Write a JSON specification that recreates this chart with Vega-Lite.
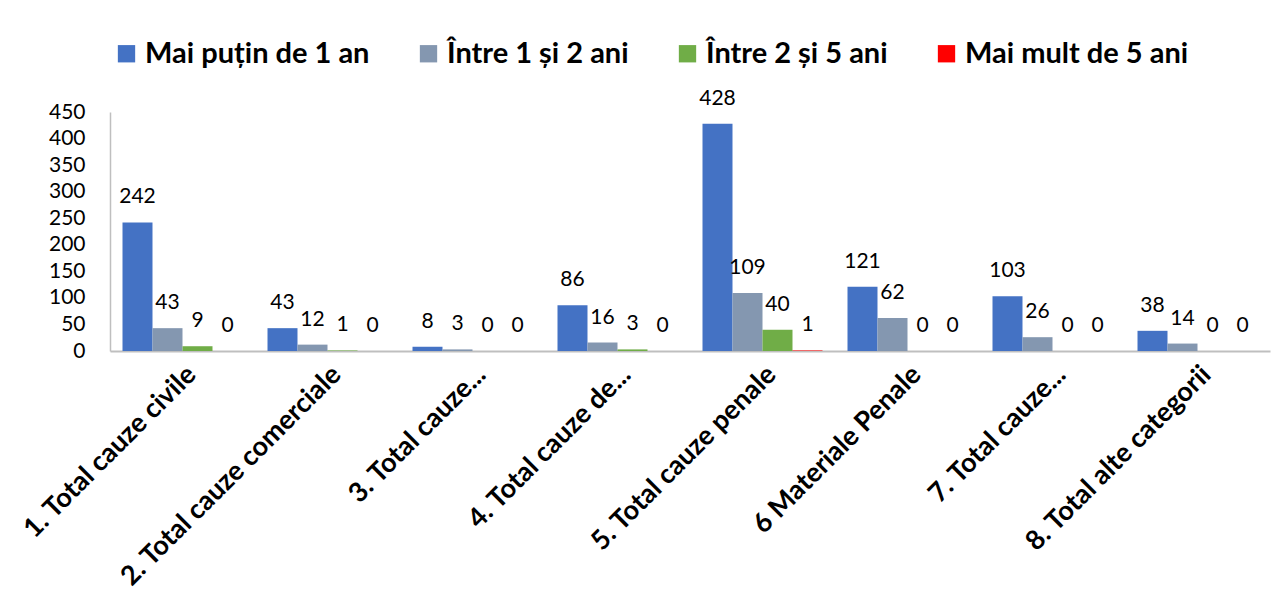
{
  "$schema": "https://vega.github.io/schema/vega-lite/v6.json",
  "autosize": {"type": "none"},
  "padding": {"left": 110, "top": 112, "right": 16, "bottom": 246},
  "width": 1160,
  "height": 239,
  "background": "white",
  "data": {
    "values": [
      {"Categorie": "1. Total cauze civile", "Durata": "Mai puțin de 1 an", "Numar": 242},
      {"Categorie": "1. Total cauze civile", "Durata": "Între 1 și 2 ani", "Numar": 43},
      {"Categorie": "1. Total cauze civile", "Durata": "Între 2 și 5 ani", "Numar": 9},
      {"Categorie": "1. Total cauze civile", "Durata": "Mai mult de 5 ani", "Numar": 0},
      {"Categorie": "2. Total cauze comerciale", "Durata": "Mai puțin de 1 an", "Numar": 43},
      {"Categorie": "2. Total cauze comerciale", "Durata": "Între 1 și 2 ani", "Numar": 12},
      {"Categorie": "2. Total cauze comerciale", "Durata": "Între 2 și 5 ani", "Numar": 1},
      {"Categorie": "2. Total cauze comerciale", "Durata": "Mai mult de 5 ani", "Numar": 0},
      {"Categorie": "3. Total cauze...", "Durata": "Mai puțin de 1 an", "Numar": 8},
      {"Categorie": "3. Total cauze...", "Durata": "Între 1 și 2 ani", "Numar": 3},
      {"Categorie": "3. Total cauze...", "Durata": "Între 2 și 5 ani", "Numar": 0},
      {"Categorie": "3. Total cauze...", "Durata": "Mai mult de 5 ani", "Numar": 0},
      {"Categorie": "4. Total cauze de...", "Durata": "Mai puțin de 1 an", "Numar": 86},
      {"Categorie": "4. Total cauze de...", "Durata": "Între 1 și 2 ani", "Numar": 16},
      {"Categorie": "4. Total cauze de...", "Durata": "Între 2 și 5 ani", "Numar": 3},
      {"Categorie": "4. Total cauze de...", "Durata": "Mai mult de 5 ani", "Numar": 0},
      {"Categorie": "5. Total cauze penale", "Durata": "Mai puțin de 1 an", "Numar": 428},
      {"Categorie": "5. Total cauze penale", "Durata": "Între 1 și 2 ani", "Numar": 109},
      {"Categorie": "5. Total cauze penale", "Durata": "Între 2 și 5 ani", "Numar": 40},
      {"Categorie": "5. Total cauze penale", "Durata": "Mai mult de 5 ani", "Numar": 1},
      {"Categorie": "6 Materiale Penale", "Durata": "Mai puțin de 1 an", "Numar": 121},
      {"Categorie": "6 Materiale Penale", "Durata": "Între 1 și 2 ani", "Numar": 62},
      {"Categorie": "6 Materiale Penale", "Durata": "Între 2 și 5 ani", "Numar": 0},
      {"Categorie": "6 Materiale Penale", "Durata": "Mai mult de 5 ani", "Numar": 0},
      {"Categorie": "7. Total cauze...", "Durata": "Mai puțin de 1 an", "Numar": 103},
      {"Categorie": "7. Total cauze...", "Durata": "Între 1 și 2 ani", "Numar": 26},
      {"Categorie": "7. Total cauze...", "Durata": "Între 2 și 5 ani", "Numar": 0},
      {"Categorie": "7. Total cauze...", "Durata": "Mai mult de 5 ani", "Numar": 0},
      {"Categorie": "8. Total alte categorii", "Durata": "Mai puțin de 1 an", "Numar": 38},
      {"Categorie": "8. Total alte categorii", "Durata": "Între 1 și 2 ani", "Numar": 14},
      {"Categorie": "8. Total alte categorii", "Durata": "Între 2 și 5 ani", "Numar": 0},
      {"Categorie": "8. Total alte categorii", "Durata": "Mai mult de 5 ani", "Numar": 0}
    ]
  },
  "encoding": {
    "x": {
      "field": "Categorie",
      "type": "nominal",
      "sort": null,
      "scale": {"paddingInner": 0.1724, "paddingOuter": 0.0862},
      "axis": {
        "title": null,
        "labelAngle": -45,
        "labelFontSize": 27,
        "labelFontWeight": "bold",
        "labelPadding": 10,
        "labelLimit": 0,
        "ticks": false,
        "domainColor": "#bfbfbf",
        "domainWidth": 2
      }
    },
    "xOffset": {
      "field": "Durata",
      "type": "nominal",
      "scale": {"domain": ["Mai puțin de 1 an", "Între 1 și 2 ani", "Între 2 și 5 ani", "Mai mult de 5 ani"], "padding": 0}
    },
    "y": {
      "field": "Numar",
      "type": "quantitative",
      "scale": {"domain": [0, 450], "nice": false},
      "axis": {
        "title": null,
        "values": [0, 50, 100, 150, 200, 250, 300, 350, 400, 450],
        "grid": false,
        "ticks": false,
        "labelFontSize": 21,
        "labelPadding": 25,
        "domainColor": "#bfbfbf",
        "domainWidth": 1.5
      }
    }
  },
  "layer": [
    {
      "mark": {"type": "bar"},
      "encoding": {
        "color": {
          "field": "Durata",
          "type": "nominal",
          "scale": {
            "domain": ["Mai puțin de 1 an", "Între 1 și 2 ani", "Între 2 și 5 ani", "Mai mult de 5 ani"],
            "range": ["#4472C4", "#8497B0", "#70AD47", "#FF0000"]
          },
          "legend": {
            "title": null,
            "orient": "none",
            "direction": "horizontal",
            "legendX": 2,
            "legendY": -73,
            "symbolType": "square",
            "symbolSize": 300,
            "symbolStrokeWidth": 0,
            "labelFontSize": 29,
            "labelFontWeight": "bold",
            "labelOffset": 4,
            "columnPadding": 44,
            "labelLimit": 0
          }
        }
      }
    },
    {
      "mark": {"type": "text", "baseline": "alphabetic", "dy": -19, "fontSize": 21, "color": "black"},
      "encoding": {
        "text": {"field": "Numar", "type": "quantitative"}
      }
    }
  ],
  "config": {
    "font": "Lato",
    "view": {"stroke": null},
    "axis": {"labelColor": "black", "labelFont": "Lato"},
    "legend": {"labelColor": "black", "labelFont": "Lato"}
  }
}
